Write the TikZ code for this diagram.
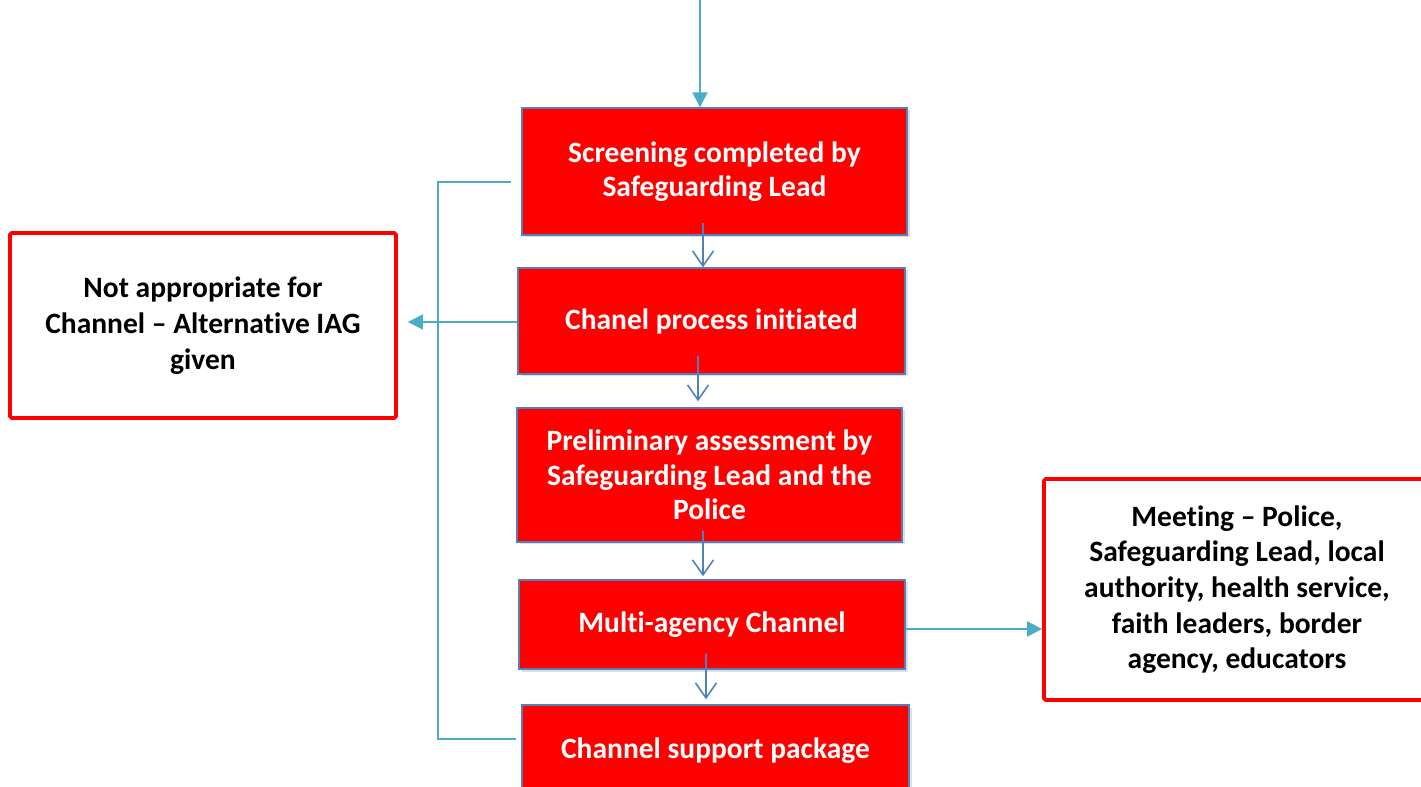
\documentclass[tikz,border=0pt]{standalone}
\usepackage{fontspec}
\setmainfont[RawFeature={-liga;-clig;-calt;-dlig}]{Carlito}
\usepackage{xcolor}
\usetikzlibrary{arrows.meta,shadows}
\definecolor{boxred}{HTML}{FF0000}
\definecolor{edgeblue}{HTML}{4F81BD}
\definecolor{linkcyan}{HTML}{4BACC6}

\begin{document}
\begin{tikzpicture}[
stage/.style={draw=edgeblue, line width=0.8pt, fill=boxred, text=white,
  align=center, inner sep=0pt,
  font=\fontsize{16.8}{19.5}\selectfont\bfseries,
  drop shadow={shadow xshift=0.05cm, shadow yshift=-0.05cm, opacity=0.25}},
outcome/.style={draw=boxred, line width=2.2pt, rounded corners=1pt, fill=white,
  text=black, align=center, inner sep=0pt,
  font=\fontsize{16.8}{20.3}\selectfont\bfseries},
flow/.style={draw=edgeblue, line width=0.9pt,
  -{Straight Barb[length=0.3cm,width=0.42cm]}},
link/.style={draw=linkcyan, line width=1.1pt,
  -{Triangle[length=0.3cm,width=0.3cm]}},
bracket/.style={draw=linkcyan, line width=0.9pt}
]
\useasboundingbox (0,0) rectangle (28.42,-15.74);

\node[stage, minimum width=7.7cm, minimum height=2.54cm] (screen) at (14.29,-3.43)
{Screening completed by\\Safeguarding Lead};
\node[stage, minimum width=7.74cm, minimum height=2.12cm] (initiate) at (14.23,-6.42)
{Chanel process initiated};
\node[stage, minimum width=7.7cm, minimum height=2.68cm] (prelim) at (14.19,-9.5)
{Preliminary assessment by\\Safeguarding Lead and the\\Police};
\node[stage, minimum width=7.72cm, minimum height=1.78cm] (multi) at (14.24,-12.49)
{Multi-agency Channel};
\node[stage, minimum width=7.74cm, minimum height=1.84cm] (support) at (14.31,-15.02)
{Channel support package};

\node[outcome, minimum width=7.72cm, minimum height=3.7cm] (notapp) at (4.06,-6.51)
{Not appropriate for\\Channel -- Alternative IAG\\given};
\node[outcome, minimum width=7.72cm, minimum height=4.42cm] (meeting) at (24.74,-11.79)
{Meeting -- Police,\\Safeguarding Lead, local\\authority, health service,\\faith leaders, border\\agency, educators};

\coordinate (entry) at (14.0,0);
\draw[link] (entry) -- (entry |- screen.north);

\draw[flow] ([xshift=-0.23cm,yshift=0.26cm]screen.south) -- ([xshift=-0.17cm]initiate.north);
\draw[flow] ([xshift=-0.27cm,yshift=0.38cm]initiate.south) -- ([xshift=-0.23cm,yshift=0.12cm]prelim.north);
\draw[flow] ([xshift=-0.13cm,yshift=0.24cm]prelim.south) -- ([xshift=-0.18cm,yshift=0.06cm]multi.north);
\draw[flow] ([xshift=-0.12cm,yshift=0.32cm]multi.south) -- ([xshift=-0.19cm,yshift=0.1cm]support.north);

\coordinate (leftout) at ([yshift=-0.02cm]initiate.west);
\coordinate (rightout) at ([yshift=-0.09cm]multi.east);
\draw[link] (leftout) -- ([xshift=0.2cm]leftout -| notapp.east);
\draw[link] (rightout) -- (rightout -| meeting.west);

\draw[bracket] ([xshift=-0.2cm,yshift=-0.21cm]screen.west) -- (8.76,-3.64) -- (8.76,-14.78)
-- ([xshift=-0.1cm,yshift=0.24cm]support.west);

\end{tikzpicture}
\end{document}
